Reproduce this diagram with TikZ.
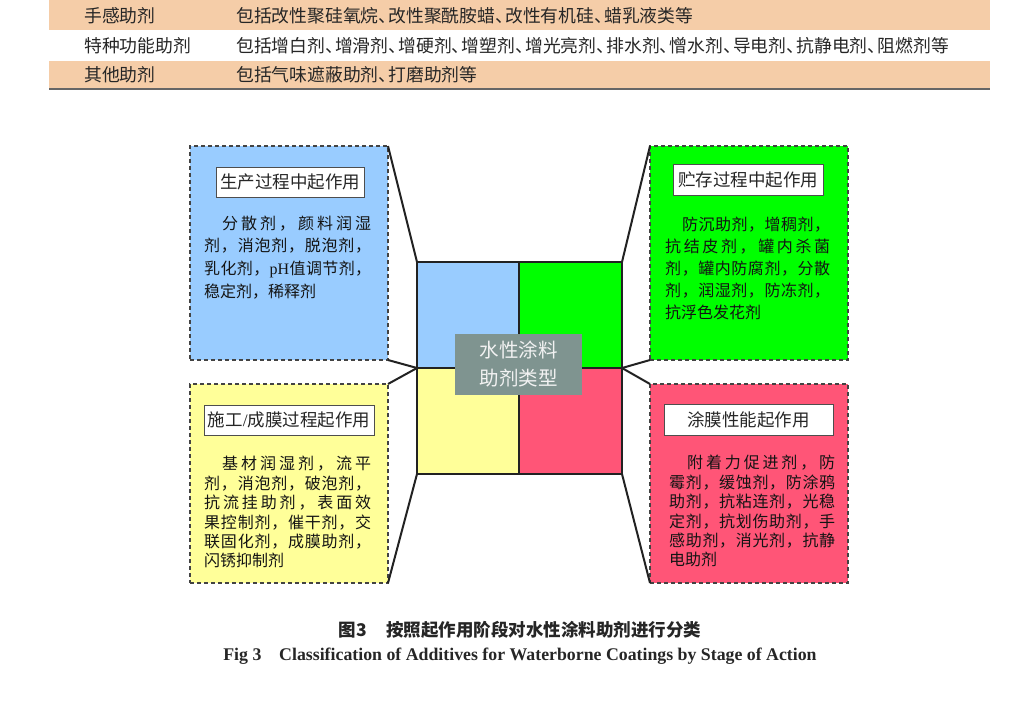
\documentclass[tikz,border=0pt]{standalone}
\usepackage{fontspec}
\setmainfont{Liberation Serif}
\newfontfamily\cjk{Noto Sans CJK SC}
\newfontfamily\lat{Liberation Serif}
\definecolor{peach}{HTML}{F5CDA8}
\definecolor{cblue}{HTML}{99CCFF}
\definecolor{cgreen}{HTML}{00FF00}
\definecolor{cyellow}{HTML}{FFFF99}
\definecolor{cpink}{HTML}{FF5577}
\definecolor{cgray}{HTML}{7F9490}
\definecolor{dk}{HTML}{222222}
\newcommand\dun{\makebox[0.56em][l]{、}}
\newcommand\pH{{\lat pH}}
\newcommand\spl[2]{\hbox to #1{\splfirst#2\relax}}
\def\splfirst#1{#1\splrest}
\def\splrest#1{\ifx\relax#1\else\hfil#1\expandafter\splrest\fi}
\tikzset{
  tbl/.style={font=\cjk\fontsize{17.8}{20}\selectfont, anchor=base west, inner sep=0pt, text=black!85},
  dbox/.style={draw=dk!85, line width=1.4pt, dash pattern=on 4pt off 3pt, inner sep=0pt, outer sep=0pt},
  quad/.style={draw=dk, line width=2pt, inner sep=0pt, outer sep=0pt, minimum width=102pt, minimum height=106pt},
  ttl/.style={draw=dk!80, line width=0.8pt, fill=white, inner sep=0pt, font=\cjk\fontsize{17.5}{20}\selectfont, text=black!85},
  bt/.style={font=\cjk\fontsize{16}{20}\selectfont, anchor=base west, inner sep=0pt, text=black!92},
  conn/.style={draw=dk, line width=2pt}
}
\begin{document}
\begin{tikzpicture}[x=1pt,y=-1pt]
\useasboundingbox (0,0) rectangle (1036,702);
% table
\fill[peach] (49,0) rectangle (990,30);
\fill[peach] (49,61) rectangle (990,88);
\draw[line width=2pt, draw=black!60] (49,89) -- (990,89);
\node[tbl] (r1a) at (84,22.4) {手感助剂};
\node[tbl] (r2a) at (84,52.4) {特种功能助剂};
\node[tbl] (r3a) at (84,81.4) {其他助剂};
\node[tbl] (r1b) at (236,22.4) {包括改性聚硅氧烷\dun 改性聚酰胺蜡\dun 改性有机硅\dun 蜡乳液类等};
\node[tbl] (r2b) at (236,52.4) {包括增白剂\dun 增滑剂\dun 增硬剂\dun 增塑剂\dun 增光亮剂\dun 排水剂\dun 憎水剂\dun 导电剂\dun 抗静电剂\dun 阻燃剂等};
\node[tbl] (r3b) at (236,81.4) {包括气味遮蔽助剂\dun 打磨助剂等};
% outer boxes
\node[dbox, fill=cblue, minimum width=198pt, minimum height=214pt] (B) at (289,253) {};
\node[dbox, fill=cgreen, minimum width=198pt, minimum height=214pt] (G) at (749,253) {};
\node[dbox, fill=cyellow, minimum width=198pt, minimum height=199pt] (Y) at (289,483.5) {};
\node[dbox, fill=cpink, minimum width=198pt, minimum height=199pt] (P) at (749,483.5) {};
% center square
\node[quad, fill=cblue] (q1) at (468,315) {};
\node[quad, fill=cgreen, minimum width=103pt] (q2) at (570.5,315) {};
\node[quad, fill=cyellow] (q3) at (468,421) {};
\node[quad, fill=cpink, minimum width=103pt] (q4) at (570.5,421) {};
% connectors
\draw[conn] (B.north east) -- (q1.north west);
\draw[conn] (B.south east) -- (q1.south west);
\draw[conn] (Y.north east) -- (q3.north west);
\draw[conn] (Y.south east) -- (q3.south west);
\draw[conn] (G.north west) -- (q2.north east);
\draw[conn] (G.south west) -- (q2.south east);
\draw[conn] (P.north west) -- (q4.north east);
\draw[conn] (P.south west) -- (q4.south east);
% center label
\node[fill=cgray, minimum width=127pt, minimum height=61pt, inner sep=0pt, text=white!95!black, align=center, font=\cjk\fontsize{19.5}{28}\selectfont] (L) at (518.5,364.5) {水性涂料\\助剂类型};
% titles
\node[ttl, minimum width=148pt, minimum height=30pt] (tB) at (290,182) {生产过程中起作用};
\node[ttl, minimum width=150pt, minimum height=31pt] (tG) at (748,179.5) {贮存过程中起作用};
\node[ttl, minimum width=170pt, minimum height=30pt] (tY) at (289,420) {施工{\lat /}成膜过程起作用};
\node[ttl, minimum width=169pt, minimum height=31pt] (tP) at (748.5,419.5) {涂膜性能起作用};
% blue body
\node[bt] (b1) at (222,229) {\spl{149pt}{分散剂，颜料润湿}};
\node[bt] (b2) at (204,251) {\spl{167pt}{剂，消泡剂，脱泡剂，}};
\node[bt] (b3) at (204,274) {\spl{167pt}{乳化剂，{\pH}值调节剂，}};
\node[bt] (b4) at (204,297) {稳定剂，稀释剂};
% green body
\node[bt] (g1) at (682,230) {\spl{148pt}{防沉助剂，增稠剂，}};
\node[bt] (g2) at (665,252) {\spl{165pt}{抗结皮剂，罐内杀菌}};
\node[bt] (g3) at (665,274) {\spl{165pt}{剂，罐内防腐剂，分散}};
\node[bt] (g4) at (665,296) {\spl{165pt}{剂，润湿剂，防冻剂，}};
\node[bt] (g5) at (665,318) {抗浮色发花剂};
% yellow body
\node[bt] (y1) at (222,469.8) {\spl{149pt}{基材润湿剂，流平}};
\node[bt] (y2) at (204,489.2) {\spl{167pt}{剂，消泡剂，破泡剂，}};
\node[bt] (y3) at (204,508.6) {\spl{167pt}{抗流挂助剂，表面效}};
\node[bt] (y4) at (204,528) {\spl{167pt}{果控制剂，催干剂，交}};
\node[bt] (y5) at (204,547.4) {\spl{167pt}{联固化剂，成膜助剂，}};
\node[bt] (y6) at (204,566.8) {闪锈抑制剂};
% pink body
\node[bt] (p1) at (687,468.8) {\spl{148pt}{附着力促进剂，防}};
\node[bt] (p2) at (669,488.2) {\spl{166pt}{霉剂，缓蚀剂，防涂鸦}};
\node[bt] (p3) at (669,507.6) {\spl{166pt}{助剂，抗粘连剂，光稳}};
\node[bt] (p4) at (669,527) {\spl{166pt}{定剂，抗划伤助剂，手}};
\node[bt] (p5) at (669,546.4) {\spl{166pt}{感助剂，消光剂，抗静}};
\node[bt] (p6) at (669,565.8) {电助剂};
% caption
\node[inner sep=0pt, font=\cjk\bfseries\fontsize{17.5}{20}\selectfont, text=black!85] (c1) at (520,630) {图3\hspace{1.1em}按照起作用阶段对水性涂料助剂进行分类};
\node[inner sep=0pt, font=\lat\bfseries\fontsize{17.8}{20}\selectfont, text=black!85] (c2) at (520,656) {Fig 3\hspace{1em}Classification of Additives for Waterborne Coatings by Stage of Action};
\end{tikzpicture}
\end{document}
